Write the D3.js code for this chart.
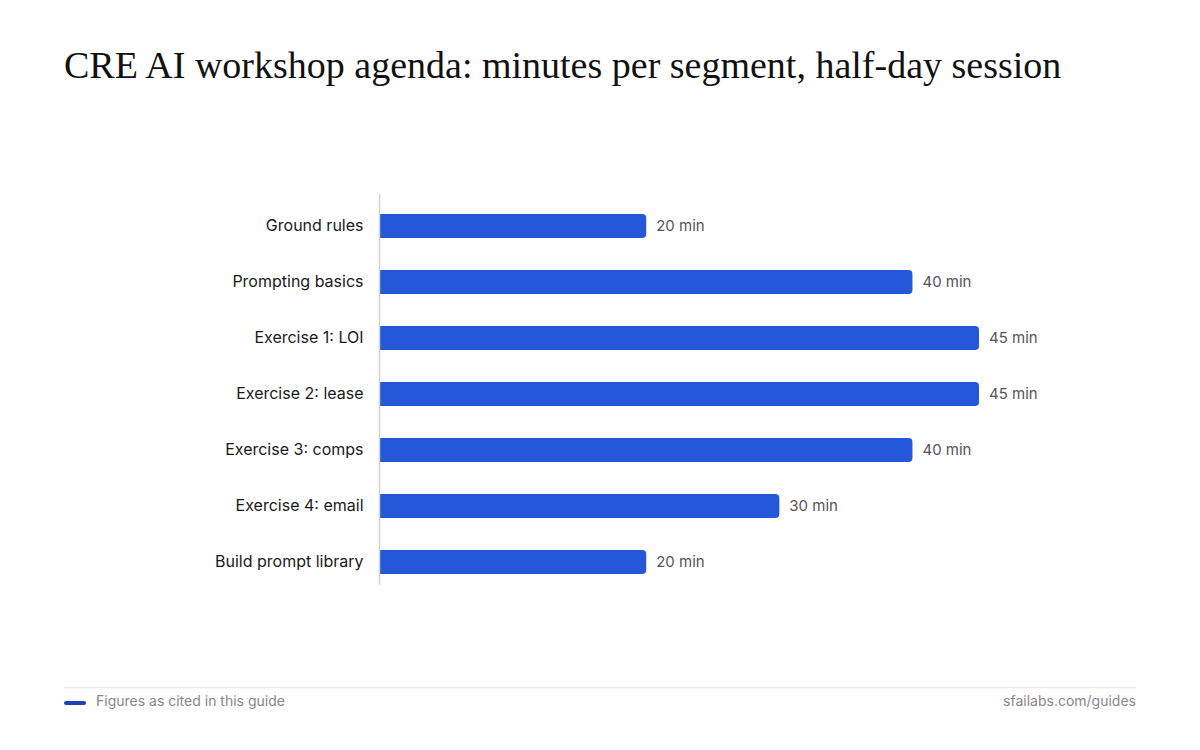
<!DOCTYPE html>
<html>
<head>
<meta charset="utf-8">
<script src="https://cdn.jsdelivr.net/npm/d3@7"></script>
<style>
  body { margin: 0; background: #fff; }
  svg { display: block; }
</style>
</head>
<body>
<script>
// agenda segments and their length in minutes
var segments = ['Ground rules','Prompting basics','Exercise 1: LOI','Exercise 2: lease','Exercise 3: comps','Exercise 4: email','Build prompt library'];
var minutes = [20,40,45,45,40,30,20];

var width = 1200, height = 750;
var margin = {left:380, right:1200 - 1045, top:198, bottom:750 - 590};

var svg = d3.select("body")
            .append("svg")
            .attr("width", width)
            .attr("height", height);

// title
svg.append("text")
    .attr("x", 64)
    .attr("y", 78)
    .attr("font-family", "'Liberation Serif', 'DejaVu Serif', serif")
    .attr("font-size", 38)
    .attr("fill", "#111")
    .text("CRE AI workshop agenda: minutes per segment, half-day session");

var y = d3.scaleBand()
            .domain(segments)
            .range([margin.top, height - margin.bottom])
            .paddingInner(0.57)
            .paddingOuter(0.285);

// 20 min -> 266px
var x = d3.scaleLinear()
            .domain([0, 45])
            .range([margin.left, margin.left + 599]);

var chartGroup = svg.append("g");

// bars, square on the left, rounded on the right
var r = 4;
chartGroup.selectAll("path.bar")
    .data(segments)
    .enter().append("path")
    .attr("class", "bar")
    .attr("fill", "#2557d9")
    .attr("d", function(d, i){
        var x0 = x(0), x1 = x(minutes[i]), y0 = y(d), h = y.bandwidth();
        return "M" + x0 + "," + y0 +
               "H" + (x1 - r) +
               "Q" + x1 + "," + y0 + " " + x1 + "," + (y0 + r) +
               "V" + (y0 + h - r) +
               "Q" + x1 + "," + (y0 + h) + " " + (x1 - r) + "," + (y0 + h) +
               "H" + x0 + "Z";
    });

// value labels
chartGroup.selectAll("text.val")
    .data(segments)
    .enter().append("text")
    .attr("class", "val")
    .attr("x", function(d, i){ return x(minutes[i]) + 10; })
    .attr("y", function(d){ return y(d) + y.bandwidth() / 2; })
    .attr("dy", "0.35em")
    .attr("font-family", "Inter, sans-serif")
    .attr("font-size", 15)
    .attr("fill", "#555")
    .text(function(d, i){ return minutes[i] + " min"; });

// category axis
var yAxis = d3.axisLeft(y).tickSize(0).tickPadding(16);
var yG = chartGroup.append("g")
    .attr("class", "axis y")
    .attr("transform", "translate(" + (margin.left - 0.5) + ",0)")
    .call(yAxis);
yG.select(".domain")
    .attr("stroke", "#d4d4d4")
    .attr("stroke-width", 1.5)
    .attr("d", "M0," + (margin.top - 4) + "V" + (height - margin.bottom - 5));
yG.selectAll(".tick text")
    .attr("font-family", "Inter, sans-serif")
    .attr("font-size", 16)
    .attr("fill", "#1a1a1a");

// footer
svg.append("line")
    .attr("x1", 64).attr("x2", 1136)
    .attr("y1", 687.5).attr("y2", 687.5)
    .attr("stroke", "#ececec")
    .attr("stroke-width", 1.5);

svg.append("line")
    .attr("x1", 66).attr("x2", 84)
    .attr("y1", 703).attr("y2", 703)
    .attr("stroke", "#1d43b0")
    .attr("stroke-width", 4)
    .attr("stroke-linecap", "round");

svg.append("text")
    .attr("x", 96)
    .attr("y", 706)
    .attr("font-family", "Inter, sans-serif")
    .attr("font-size", 14)
    .attr("fill", "#888")
    .text("Figures as cited in this guide");

svg.append("text")
    .attr("x", 1136)
    .attr("y", 706)
    .attr("text-anchor", "end")
    .attr("font-family", "Inter, sans-serif")
    .attr("font-size", 14)
    .attr("fill", "#888")
    .text("sfailabs.com/guides");
</script>
</body>
</html>
